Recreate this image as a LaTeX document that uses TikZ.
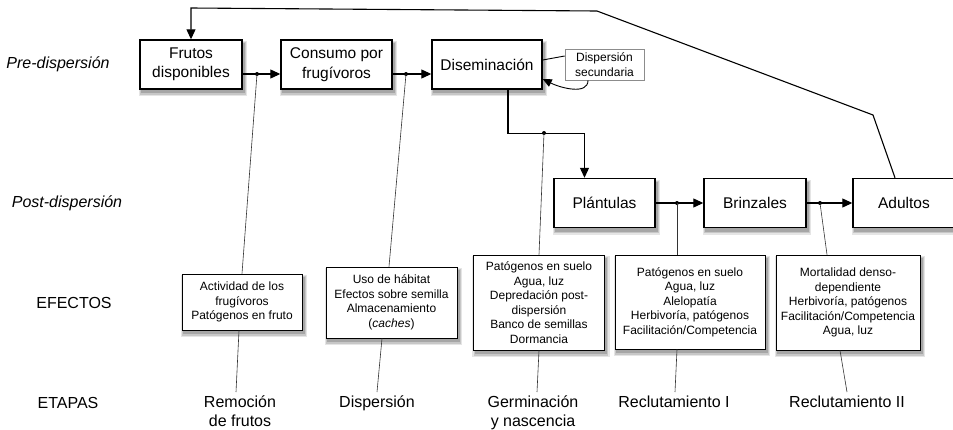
\documentclass[tikz,border=0pt]{standalone}
\usepackage{fontspec}
\setmainfont{Liberation Sans}
\usetikzlibrary{positioning, arrows.meta}

\begin{document}
\begin{tikzpicture}[
        x=1pt, y=-1pt,
        caja/.style={draw, line width=1.4pt, fill=white, inner sep=0pt, align=center,
            font=\fontsize{15.5}{19.5}\selectfont},
        efecto/.style={draw, line width=0.8pt, fill=white, inner sep=0pt, align=center,
            font=\fontsize{12}{14.5}\selectfont},
        nota/.style={draw=black!45, line width=0.6pt, fill=white, inner sep=0pt, align=center,
            font=\fontsize{12}{15}\selectfont},
        etapa/.style={align=center, anchor=north, inner sep=4pt, font=\fontsize{16}{18.5}\selectfont},
        fila/.style={font=\fontsize{16}{19}\selectfont},
        flecha/.style={line width=1.1pt, -{Triangle[length=10pt, width=9pt]}},
        fino/.style={line width=0.6pt, draw=black!80},
        punto/.style={circle, fill, inner sep=0pt, minimum size=4pt},
    ]
    \useasboundingbox (0,0) rectangle (953,429);

    % sombras (centro x / centro y / ancho / alto)
    \foreach \cx/\cy/\w/\h in {191/64.5/102/49, 336.5/64.5/111/49, 487/64.5/110/49,
            604.5/203/101/49, 755/203/102/49, 904/203/102/49,
            242/302/120/56, 391.5/302.5/131/71, 539/302.5/131/95, 690/302/150/94, 848/302.5/144/95} {
        \fill[black!10] ({\cx-\w/2-1.5}, {\cy-\h/2+1}) rectangle ({\cx+\w/2+5}, {\cy+\h/2+7});
        \fill[black!22] ({\cx-\w/2}, {\cy-\h/2+2}) rectangle ({\cx+\w/2+3.5}, {\cy+\h/2+5.5});
        \fill[black!35] ({\cx-\w/2+1}, {\cy-\h/2+3}) rectangle ({\cx+\w/2+2.5}, {\cy+\h/2+4});
    }

    % filas
    \node[fila, font=\fontsize{16}{19}\selectfont\itshape] (pre) at (58,64) {Pre-dispersión};
    \node[fila, font=\fontsize{16}{19}\selectfont\itshape] (post) at (67,203) {Post-dispersión};
    \node[fila] (efectos) at (74,303) {EFECTOS};
    \node[fila] (etapas) at (68,403) {ETAPAS};

    % pre-dispersion
    \node[caja, minimum width=102pt, minimum height=49pt] (frutos) at (191,64.5) {Frutos\\disponibles};
    \node[caja, minimum width=111pt, minimum height=49pt] (consumo) at (336.5,64.5) {Consumo por\\frugívoros};
    \node[caja, minimum width=110pt, minimum height=49pt] (disem) at (487,64.5) {Diseminación};
    \node[nota, minimum width=79pt, minimum height=31pt] (secund) at (604.5,64.5) {Dispersión\\secundaria};

    % post-dispersion
    \node[caja, minimum width=101pt, minimum height=49pt] (plant) at (604.5,203) {Plántulas};
    \node[caja, minimum width=102pt, minimum height=49pt] (brinz) at (755,203) {Brinzales};
    \node[caja, minimum width=102pt, minimum height=49pt] (adult) at (904,203) {Adultos};

    % efectos
    \node[efecto, minimum width=120pt, minimum height=56pt] (efRem) at (242,302) {Actividad de los\\frugívoros\\Patógenos en fruto};
    \node[efecto, minimum width=131pt, minimum height=71pt] (efDisp) at (391.5,302.5) {Uso de hábitat\\Efectos sobre semilla\\Almacenamiento\\(\textit{caches})};
    \node[efecto, minimum width=131pt, minimum height=95pt] (efGerm) at (539,302.5) {Patógenos en suelo\\Agua, luz\\Depredación post-\\dispersión\\Banco de semillas\\Dormancia};
    \node[efecto, minimum width=150pt, minimum height=94pt] (efRecI) at (690,302) {Patógenos en suelo\\Agua, luz\\Alelopatía\\Herbivoría, patógenos\\Facilitación/Competencia};
    \node[efecto, minimum width=144pt, minimum height=95pt] (efRecII) at (848,302.5) {Mortalidad denso-\\dependiente\\Herbivoría, patógenos\\Facilitación/Competencia\\Agua, luz};

    % etapas
    \node[etapa] (etRem) at (240,392) {Remoción\\de frutos};
    \node[etapa] (etDisp) at (377,392) {Dispersión};
    \node[etapa] (etGerm) at (533,392) {Germinación\\y nascencia};
    \node[etapa] (etRecI) at (674,392) {Reclutamiento I};
    \node[etapa] (etRecII) at (847,392) {Reclutamiento II};

    % flechas principales
    \draw[flecha] ([yshift=-9.5pt]frutos.east) -- ([yshift=-9.5pt]consumo.west);
    \draw[flecha] ([yshift=-9.5pt]consumo.east) -- ([yshift=-9.5pt]disem.west);
    \draw[flecha] ([xshift=21pt]disem.south) -- ++(0,44) -| ([xshift=-20pt]plant.north);
    \draw[flecha] (plant.east) -- (brinz.west);
    \draw[flecha] (brinz.east) -- (adult.west);

    % retorno
    \coordinate (r1) at (873,115);
    \coordinate (r2) at (597,11);
    \coordinate (r3) at (192,8);
    \draw[flecha] ([xshift=-9pt]adult.north) -- (r1) -- (r2) -- (frutos.north |- r3) -- (frutos.north);

    % dispersion secundaria
    \draw[line width=0.9pt] ([yshift=4.5pt]disem.east) -- ([yshift=8.5pt]secund.west);
    \draw[line width=0.9pt, -{Triangle[length=9pt, width=8pt]}] ([xshift=-16.5pt]secund.south)
        .. controls +(0,15) and +(18,9) .. ([yshift=-14.5pt]disem.east);

    % puntos
    \node[punto] (pRem) at (257,74) {};
    \node[punto] (pDisp) at (406,74) {};
    \node[punto] (pGerm) at (544,133) {};
    \node[punto] (pRecI) at (677,203) {};
    \node[punto] (pRecII) at (820,203) {};

    % lineas a efectos
    \draw[fino] (pRem.center) -- (efRem.north);
    \draw[fino] (pDisp.center) -- ([xshift=-2.5pt]efDisp.north);
    \draw[fino] (pGerm.center) -- (efGerm.north);
    \draw[fino] (pRecI.center) -- (efRecI.north -| pRecI);
    \draw[fino] (pRecII.center) -- ([xshift=-21pt]efRecII.north);

    % lineas a etapas
    \draw[fino] ([xshift=-3pt]efRem.south) -- ([xshift=-4pt]etRem.north);
    \draw[fino] ([xshift=-9.5pt]efDisp.south) -- (etDisp.north);
    \draw[fino] (efGerm.south) -- ([xshift=4pt]etGerm.north);
    \draw[fino] ([xshift=-13pt]efRecI.south) -- ([xshift=1pt]etRecI.north);
    \draw[fino] ([xshift=-8pt]efRecII.south) -- (etRecII.north);
\end{tikzpicture}
\end{document}
